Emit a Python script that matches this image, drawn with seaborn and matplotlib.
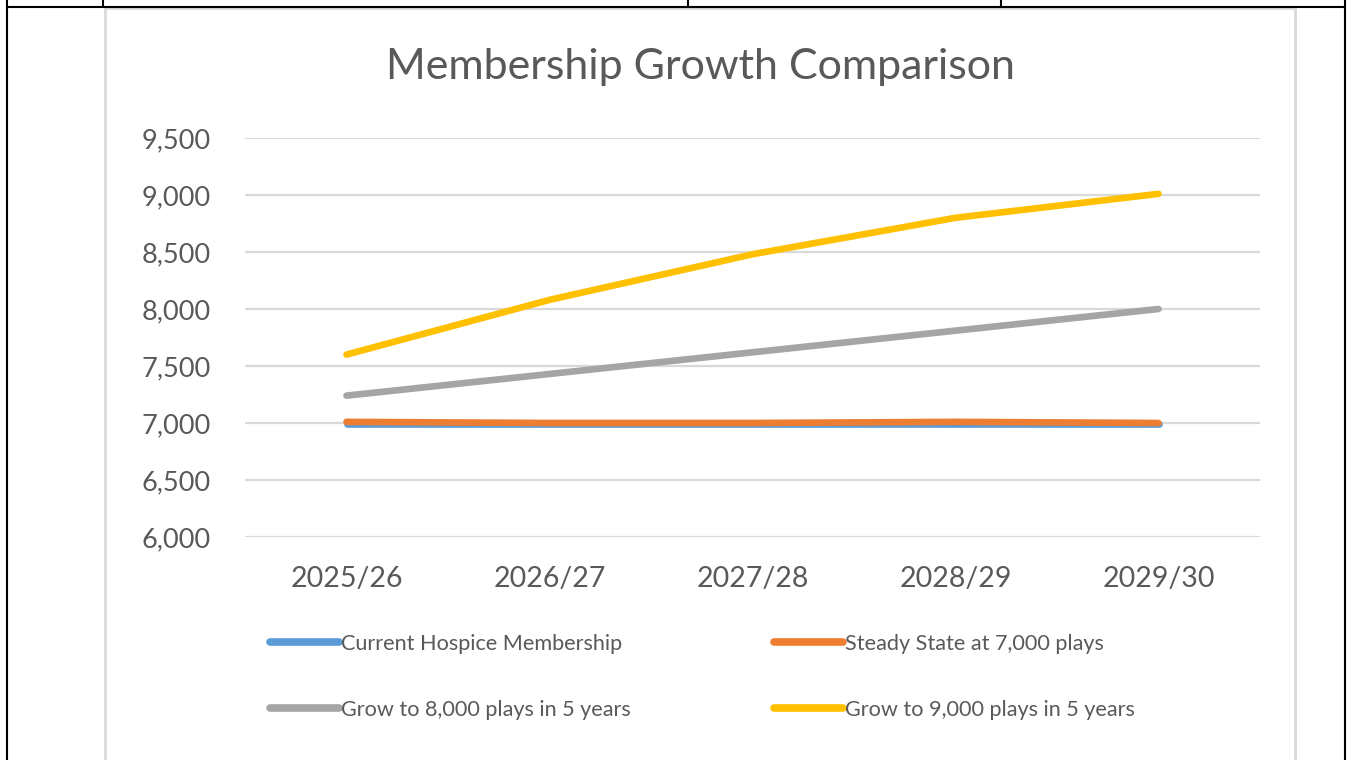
import matplotlib
matplotlib.use("Agg")
import matplotlib.pyplot as plt
import seaborn as sns
import pandas as pd
from matplotlib.lines import Line2D
from matplotlib.patches import Rectangle
from matplotlib.ticker import FuncFormatter

years = ["2025/26", "2026/27", "2027/28", "2028/29", "2029/30"]
current = [6990, 6990, 6990, 6990, 6990]
steady = [7010, 7000, 7000, 7010, 7000]
grow8000 = [7240, 7430, 7620, 7810, 8000]
grow9000 = [7600, 8080, 8480, 8800, 9010]

series_names = ["Current Hospice Membership", "Steady State at 7,000 plays",
                "Grow to 8,000 plays in 5 years", "Grow to 9,000 plays in 5 years"]
colors = ["#5B9BD5", "#ED7D31", "#A5A5A5", "#FFC000"]

rows = []
for name, vals in zip(series_names, [current, steady, grow8000, grow9000]):
    for i, (y, v) in enumerate(zip(years, vals)):
        rows.append({"Year": y, "idx": i, "Value": v, "Series": name})
df = pd.DataFrame(rows)

sns.set_theme(style="white")
plt.rcParams["font.family"] = ["Lato", "DejaVu Sans"]

fig = plt.figure(figsize=(13.52, 7.6), dpi=100)
ax = fig.add_axes([245/1352, 1-537/760, (1260-245)/1352, (537-138)/760])

sns.lineplot(data=df, x="idx", y="Value", hue="Series", hue_order=series_names,
             palette=colors, linewidth=4.8, ax=ax, legend=False, solid_capstyle="round")

ax.set_xlim(-0.5, 4.5)
ax.set_ylim(6000, 9500)
ax.set_yticks(range(6000, 9501, 500))
ax.yaxis.set_major_formatter(FuncFormatter(lambda v, p: f"{int(v):,}"))
ax.set_xticks(range(len(years)))
ax.set_xticklabels(years)
ax.grid(axis="y", color="#D9D9D9", linewidth=1.6)
ax.set_axisbelow(True)
for s in ["top", "right", "left", "bottom"]:
    ax.spines[s].set_visible(False)
ax.tick_params(axis="y", labelsize=19.5, colors="#595959", pad=25, length=0)
ax.tick_params(axis="x", labelsize=20.5, colors="#595959", pad=21, length=0)
ax.set_xlabel("")
ax.set_ylabel("")

fig.text(700/1352, 1-67/760, "Membership Growth Comparison", ha="center", va="center",
         fontsize=31, color="#595959")

handles = [Line2D([0], [0], color=c, linewidth=5.5, solid_capstyle="round") for c in colors]
order = [0, 2, 1, 3]
leg = fig.legend([handles[i] for i in order], [series_names[i] for i in order],
                 ncol=2, loc="upper left", bbox_to_anchor=(250/1352, 1-614/760),
                 frameon=False, fontsize=15.6, handlelength=3.2, handletextpad=0.1,
                 columnspacing=6.6, labelspacing=2.15, labelcolor="#595959")

# chart area border and document frame
fig.patches.append(Rectangle((105/1352, -0.01), (1295-105)/1352, (760-8)/760 + 0.01,
                             transform=fig.transFigure, fill=False, edgecolor="#D9D9D9",
                             linewidth=2, zorder=0))
for x in [7, 1345]:
    fig.lines.append(Line2D([x/1352, x/1352], [0, 1], transform=fig.transFigure,
                            color="black", linewidth=1.5))
fig.lines.append(Line2D([7/1352, 1345/1352], [1-7/760, 1-7/760], transform=fig.transFigure,
                        color="black", linewidth=1.5))
for x in [103, 688, 1001]:
    fig.lines.append(Line2D([x/1352, x/1352], [1-7/760, 1], transform=fig.transFigure,
                            color="black", linewidth=1.5))

fig.savefig("out.png", dpi=100)
